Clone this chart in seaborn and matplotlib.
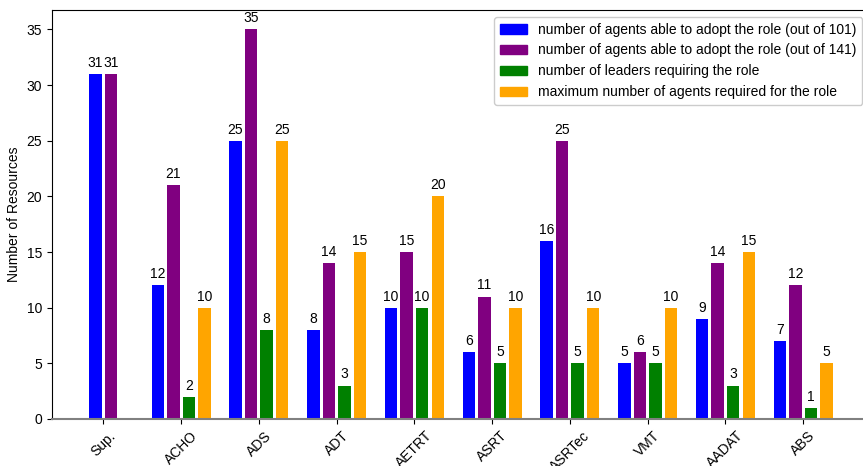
import numpy as np
import pandas as pd
import seaborn as sns
import matplotlib
matplotlib.use("Agg")
import matplotlib.pyplot as plt
from matplotlib.patches import Patch

roles = ["Sup.", "ACHO", "ADS", "ADT", "AETRT", "ASRT", "ASRTec", "VMT", "AADAT", "ABS"]
agents_101 = [31, 12, 25, 8, 10, 6, 16, 5, 9, 7]
agents_141 = [31, 21, 35, 14, 15, 11, 25, 6, 14, 12]
leaders = [None, 2, 8, 3, 10, 5, 5, 5, 3, 1]
max_required = [None, 10, 25, 15, 20, 10, 10, 10, 15, 5]

series_names = [
    "number of agents able to adopt the role (out of 101)",
    "number of agents able to adopt the role (out of 141)",
    "number of leaders requiring the role",
    "maximum number of agents required for the role",
]
series_values = [agents_101, agents_141, leaders, max_required]
colors = ["#0000ff", "#800080", "#008000", "#ffa500"]

sns.set_style("ticks")
plt.rcParams["font.family"] = ["Liberation Sans", "DejaVu Sans"]
plt.rcParams.update({
    "text.color": "black",
    "axes.labelcolor": "black",
    "xtick.color": "black",
    "ytick.color": "black",
    "axes.edgecolor": "black",
})

# Long-form table: each role's available bars are centred on its tick
step = 0.2
rows = []
for i, role in enumerate(roles):
    present = [k for k in range(len(series_values)) if series_values[k][i] is not None]
    n = len(present)
    for j, k in enumerate(present):
        rows.append({
            "pos": round(i + (j - (n - 1) / 2) * step, 6),
            "value": series_values[k][i],
            "series": series_names[k],
        })
df = pd.DataFrame(rows)

fig = plt.figure(figsize=(8.63, 4.66), dpi=100)
ax = fig.add_axes([0.0603, 0.1009, 0.947, 0.8776])

sns.barplot(data=df, x="pos", y="value", hue="series", hue_order=series_names,
            palette=colors, native_scale=True, dodge=False, errorbar=None,
            saturation=1, legend=False, linewidth=0, width=0.8, ax=ax)

for cont in ax.containers:
    ax.bar_label(cont, fmt="%g", padding=3, fontsize=10, color="black")

ax.set_xticks(range(len(roles)))
ax.set_xticklabels(roles, rotation=45, ha="center", fontsize=10)
ax.tick_params(axis="y", labelsize=10)
ax.set_xlim(-0.66, 9.85)
ax.set_ylim(0, 36.75)
ax.set_xlabel("")
ax.set_ylabel("Number of Resources", fontsize=10)

ax.spines["bottom"].set_color("gray")
ax.spines["bottom"].set_linewidth(1.5)

handles = [Patch(color=c) for c in colors]
ax.legend(handles, series_names, loc="upper right", fontsize=10, framealpha=1)

fig.savefig("out.png", dpi=100)
